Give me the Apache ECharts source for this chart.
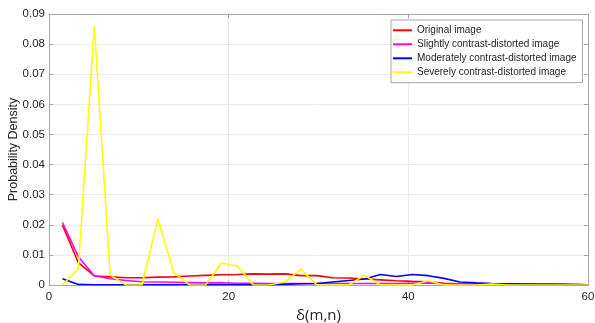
<!DOCTYPE html>
<html>
<head>
<meta charset="utf-8">
<script src="https://cdn.jsdelivr.net/npm/echarts@6/dist/echarts.min.js"></script>
<style>html,body{margin:0;padding:0;background:#fff}#c{width:595px;height:323px}</style>
</head>
<body>
<div id="c"></div>
<script>
var xValues = [1.5, 3.27, 5.04, 6.81, 8.58, 10.35, 12.12, 13.89, 15.66, 17.43, 19.2, 20.97, 22.74, 24.51, 26.28, 28.05, 29.82, 31.59, 33.36, 35.13, 36.9, 38.67, 40.44, 42.21, 43.98, 45.75, 47.52, 49.29, 51.06, 52.83, 54.6, 56.37, 58.14, 59.91];
var seriesNames = ['Original image', 'Slightly contrast-distorted image', 'Moderately contrast-distorted image', 'Severely contrast-distorted image'];
var original = [0.0199, 0.0074, 0.0030, 0.0027, 0.0024, 0.0024, 0.0026, 0.0027, 0.0030, 0.0032, 0.0034, 0.0035, 0.0037, 0.0036, 0.0037, 0.0031, 0.0031, 0.0024, 0.0023, 0.0020, 0.0017, 0.0014, 0.0012, 0.0011, 0.0006, 0.0004, 0.0003, 0.0003, 0.0002, 0.0002, 0.0002, 0.0002, 0.0002, 0.0001];
var slight = [0.0207, 0.0094, 0.0031, 0.0021, 0.0015, 0.0011, 0.0010, 0.0009, 0.0008, 0.0007, 0.0007, 0.0006, 0.0006, 0.0005, 0.0005, 0.0005, 0.0005, 0.0005, 0.0005, 0.0005, 0.0005, 0.0005, 0.0006, 0.0007, 0.0004, 0.0003, 0.0003, 0.0003, 0.0002, 0.0002, 0.0002, 0.0002, 0.0002, 0.0001];
var moderate = [0.0021, 0.0002, 0.0001, 0.0001, 0.0001, 0.0001, 0.0001, 0.0001, 0.0001, 0.0001, 0.0001, 0.0001, 0.0001, 0.0001, 0.0002, 0.0004, 0.0005, 0.0010, 0.0015, 0.0020, 0.0035, 0.0028, 0.0035, 0.0031, 0.0022, 0.0010, 0.0007, 0.0005, 0.0004, 0.0003, 0.0002, 0.0002, 0.0001, 0.0001];
var severe = [0.0000, 0.0054, 0.0860, 0.0033, 0.0000, 0.0000, 0.0220, 0.0041, 0.0000, 0.0000, 0.0072, 0.0063, 0.0000, 0.0000, 0.0011, 0.0052, 0.0000, 0.0000, 0.0000, 0.0032, 0.0000, 0.0000, 0.0000, 0.0014, 0.0000, 0.0000, 0.0000, 0.0003, 0.0000, 0.0000, 0.0000, 0.0000, 0.0000, 0.0000];
var yTicks = ['0', '0.01', '0.02', '0.03', '0.04', '0.05', '0.06', '0.07', '0.08', '0.09'];
var xTicks = ['0', '20', '40', '60'];

var colors = ['#ff0000', '#ff00ff', '#0000ff', '#ffff00'];
var allData = [original, slight, moderate, severe];
function pairs(arr) { return xValues.map(function (x, i) { return [x, arr[i]]; }); }

var FONT = '"Liberation Sans", Arial, sans-serif';
var axisCol = '#a6a6a6';
var chart = echarts.init(document.getElementById('c'), null, {renderer: 'canvas'});
chart.setOption({
  animation: false,
  backgroundColor: '#fff',
  color: colors,
  grid: {left: 49, right: 7, top: 14, bottom: 38, containLabel: false, outerBoundsMode: 'none'},
  legend: {
    orient: 'vertical', left: 391, top: 20,
    data: seriesNames,
    icon: 'rect', itemWidth: 19, itemHeight: 2, itemGap: 1.4,
    padding: [4, 6, 4, 2],
    borderColor: '#a6a6a6', borderWidth: 1, backgroundColor: '#fff',
    textStyle: {fontFamily: FONT, fontSize: 10, color: '#262626', lineHeight: 12.6}
  },
  xAxis: [{
    type: 'value', min: 0, max: 60, interval: 20,
    name: 'δ(m,n)', nameLocation: 'middle', nameGap: 22,
    nameTextStyle: {fontFamily: '"Open Sans", "Noto Sans", sans-serif', fontSize: 15, color: '#262626'},
    axisLine: {show: true, lineStyle: {color: axisCol, width: 1}},
    axisTick: {show: true, inside: true, length: 4, lineStyle: {color: axisCol}},
    axisLabel: {fontFamily: FONT, fontSize: 11.5, color: '#262626', margin: 6,
      formatter: function (v) { return xTicks[Math.round(v / 20)]; }},
    splitLine: {show: true, lineStyle: {color: '#ebebeb', width: 1}}
  }, {
    type: 'value', position: 'top', min: 0, max: 60, interval: 20,
    axisLine: {show: true, onZero: false, lineStyle: {color: axisCol, width: 1}},
    axisTick: {show: true, inside: true, length: 4, lineStyle: {color: axisCol}},
    axisLabel: {show: false}, splitLine: {show: false}
  }],
  yAxis: [{
    type: 'value', min: 0, max: 0.09, interval: 0.01,
    name: 'Probability Density', nameLocation: 'middle', nameGap: 29, nameMoveOverlap: false,
    nameTextStyle: {fontFamily: FONT, fontSize: 12.5, color: '#262626'},
    axisLine: {show: true, lineStyle: {color: axisCol, width: 1}},
    axisTick: {show: true, inside: true, length: 4, lineStyle: {color: axisCol}},
    axisLabel: {fontFamily: FONT, fontSize: 11.5, color: '#262626', margin: 4,
      formatter: function (v) { return yTicks[Math.round(v * 100)]; }},
    splitLine: {show: true, lineStyle: {color: '#ebebeb', width: 1}}
  }, {
    type: 'value', position: 'right', min: 0, max: 0.09, interval: 0.01,
    axisLine: {show: true, onZero: false, lineStyle: {color: axisCol, width: 1}},
    axisTick: {show: true, inside: true, length: 4, lineStyle: {color: axisCol}},
    axisLabel: {show: false}, splitLine: {show: false}
  }],
  series: seriesNames.map(function (n, k) {
    return {
      name: n, type: 'line', data: pairs(allData[k]),
      showSymbol: false, symbol: 'none',
      lineStyle: {width: 1.6, color: colors[k]},
      itemStyle: {color: colors[k]}
    };
  })
});
</script>
</body>
</html>
